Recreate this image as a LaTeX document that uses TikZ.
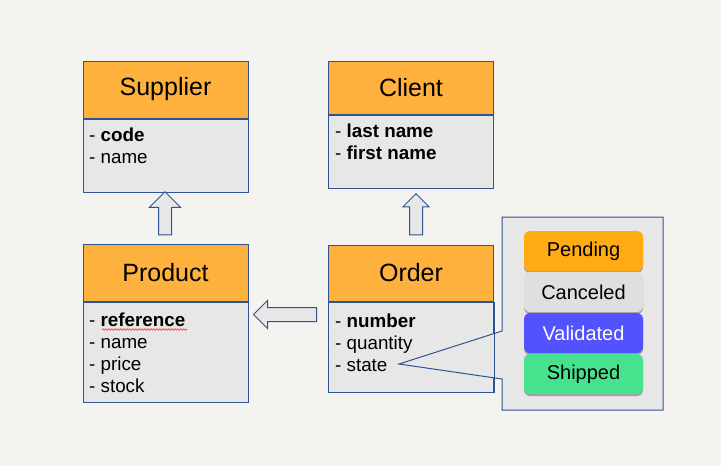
\documentclass[tikz,border=0pt]{standalone}
\usepackage{fontspec}
\setmainfont{Liberation Sans}
\usetikzlibrary{shapes.arrows,shadows,decorations.pathmorphing}
\definecolor{bgcol}{HTML}{F4F3EF}
\definecolor{umlblue}{HTML}{2F5590}
\definecolor{umlorange}{HTML}{FFB13D}
\definecolor{umlgray}{HTML}{E7E7E7}
\definecolor{stpend}{HTML}{FFAC13}
\definecolor{stcanc}{HTML}{DFDFDF}
\definecolor{stvalid}{HTML}{5252FF}
\definecolor{stship}{HTML}{47E28E}
\tikzset{
  classhead/.style={draw=umlblue, fill=umlorange, line width=1pt, minimum width=165pt, minimum height=57pt, inner sep=0pt, font=\fontsize{25}{29}\selectfont},
  classbody/.style={draw=umlblue, fill=umlgray, line width=1pt, anchor=north, minimum width=165pt, inner sep=0pt},
  attr/.style={anchor=base west, inner sep=0pt, font=\fontsize{18.8}{22}\selectfont},
  inherit/.style={single arrow, draw=umlblue, fill=umlgray, line width=1pt, inner xsep=0pt, inner ysep=6pt, single arrow tip angle=90},
  statebtn/.style={rounded corners=6pt, minimum width=119pt, minimum height=40pt, inner sep=0pt, font=\fontsize{20}{24}\selectfont, drop shadow={shadow xshift=0pt, shadow yshift=-2pt, opacity=.3, fill=black}},
}
\begin{document}
\begin{tikzpicture}[x=1pt,y=-1pt]
\useasboundingbox (0,0) rectangle (721,466);
\fill[bgcol] (0,0) rectangle (721,466);

% classes
\node[classhead] (suphead) at (165.5,89.5) {Supplier};
\node[classbody, minimum height=73pt] (supbody) at (suphead.south) {};
\foreach \i/\t in {1/{\textbf{code}},2/name}{ \node[attr] (sup-\i) at (89,119+22*\i){- \t};}

\node[classhead, minimum height=53pt] (clihead) at (411,87.5) {Client};
\node[classbody, minimum height=73pt] (clibody) at (clihead.south) {};
\foreach \i/\t in {1/{\textbf{last name}},2/{\textbf{first name}}}{ \node[attr] (cli-\i) at (335,115+22*\i){- \t};}

\node[classhead] (prodhead) at (165.5,272.5) {Product};
\node[classbody, minimum height=100pt] (prodbody) at (prodhead.south) {};
\foreach \i/\t in {1/{\textbf{reference}},2/name,3/price,4/stock}{ \node[attr] (prod-\i) at (89,304+22*\i){- \t};}
\draw[red!85, line width=0.6pt, decorate, decoration={snake, amplitude=0.8pt, segment length=3pt}] (102,329.5) -- (187,329.5);

\node[classhead, minimum height=56pt] (ordhead) at (411,273) {Order};
\node[classbody, minimum height=90pt] (ordbody) at (ordhead.south) {};
\foreach \i/\t in {1/{\textbf{number}},2/quantity,3/state}{ \node[attr] (ord-\i) at (335,305+22*\i){- \t};}

% arrows
\node[inherit, rotate=90, minimum height=43pt, minimum width=30pt, single arrow head extend=9pt] (sup-arrow) at (165,216.5) {};
\node[inherit, rotate=90, minimum height=41pt, minimum width=25pt, single arrow head extend=6.5pt] (cli-arrow) at (416,217.5) {};
\node[inherit, rotate=180, minimum height=63pt, minimum width=27pt, single arrow head extend=7pt, inner ysep=6.5pt] (prod-arrow) at (288.5,314.5) {};

% state callout
\coordinate (tip) at (399,364);
\filldraw[draw=umlblue, fill=umlgray, line width=1pt] (502,331) -- (502,217) -- (663,217) -- (663,410) -- (502,410) -- (502,379) -- (tip) -- cycle;
\draw[umlblue, line width=1pt] (ordbody.north east) -- (ordbody.south east);

\foreach \n/\t/\c/\tc [count=\i] in {pend/Pending/stpend/black,canc/Canceled/stcanc/black,valid/Validated/stvalid/white,ship/Shipped/stship/black}{ \node[statebtn, fill=\c, text=\tc] (\n) at (583.5,210+41*\i){\t};}

\end{tikzpicture}
\end{document}
